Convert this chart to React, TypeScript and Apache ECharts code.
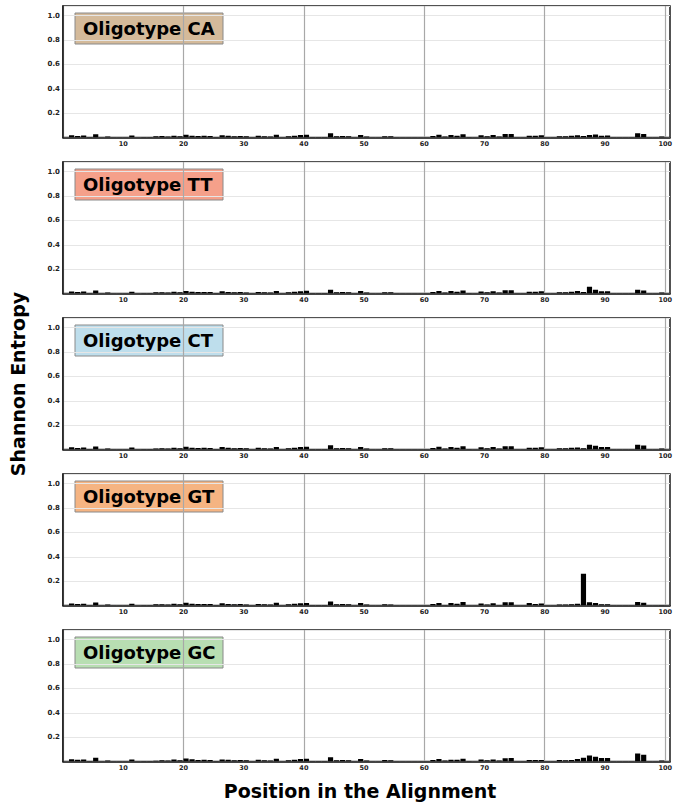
import React, { useEffect, useRef } from "react";
import * as echarts from "echarts";

// Alignment positions 1..99 (category index of each bar)
const POSITIONS: number[] = Array.from({ length: 99 }, (_, i) => i + 1);

const OLIGOTYPES = ["CA", "TT", "CT", "GT", "GC"];

const CA: number[] = [
  0.018, 0.012, 0.016, 0.004, 0.027, 0.003, 0.008, 0.002, 0.002, 0.002,
  0.016, 0.003, 0.004, 0.005, 0.010, 0.012, 0.008, 0.014, 0.010, 0.022,
  0.015, 0.012, 0.014, 0.012, 0.005, 0.018, 0.014, 0.010, 0.012, 0.010,
  0.003, 0.014, 0.010, 0.008, 0.022, 0.003, 0.010, 0.015, 0.020, 0.022,
  0.005, 0.005, 0.005, 0.035, 0.010, 0.012, 0.010, 0.003, 0.020, 0.008,
  0.002, 0.002, 0.010, 0.010, 0.002, 0.002, 0.002, 0.002, 0.002, 0.002,
  0.012, 0.022, 0.008, 0.020, 0.014, 0.026, 0.005, 0.003, 0.018, 0.010,
  0.020, 0.008, 0.028, 0.028, 0.003, 0.003, 0.015, 0.015, 0.018, 0.003,
  0.003, 0.010, 0.010, 0.014, 0.018, 0.012, 0.020, 0.024, 0.014, 0.016,
  0.002, 0.002, 0.002, 0.002, 0.035, 0.028, 0.003, 0.003, 0.008,
];

const TT: number[] = [
  0.016, 0.012, 0.016, 0.004, 0.025, 0.003, 0.008, 0.002, 0.002, 0.002,
  0.015, 0.003, 0.004, 0.005, 0.010, 0.011, 0.008, 0.014, 0.010, 0.020,
  0.015, 0.012, 0.013, 0.012, 0.005, 0.018, 0.013, 0.010, 0.012, 0.009,
  0.003, 0.013, 0.010, 0.008, 0.020, 0.003, 0.010, 0.014, 0.019, 0.022,
  0.005, 0.005, 0.005, 0.030, 0.010, 0.012, 0.010, 0.003, 0.020, 0.008,
  0.002, 0.002, 0.010, 0.010, 0.002, 0.002, 0.002, 0.002, 0.002, 0.002,
  0.012, 0.020, 0.008, 0.020, 0.014, 0.024, 0.005, 0.003, 0.016, 0.010,
  0.018, 0.008, 0.026, 0.026, 0.003, 0.003, 0.015, 0.015, 0.018, 0.003,
  0.003, 0.010, 0.010, 0.014, 0.020, 0.012, 0.055, 0.030, 0.018, 0.018,
  0.002, 0.002, 0.002, 0.002, 0.030, 0.025, 0.003, 0.003, 0.008,
];

const CT: number[] = [
  0.018, 0.012, 0.016, 0.004, 0.025, 0.003, 0.008, 0.002, 0.002, 0.002,
  0.016, 0.003, 0.004, 0.005, 0.008, 0.010, 0.008, 0.014, 0.010, 0.022,
  0.015, 0.012, 0.014, 0.012, 0.005, 0.020, 0.014, 0.010, 0.012, 0.010,
  0.003, 0.014, 0.010, 0.008, 0.020, 0.003, 0.010, 0.015, 0.020, 0.022,
  0.005, 0.005, 0.005, 0.035, 0.010, 0.012, 0.010, 0.003, 0.020, 0.008,
  0.002, 0.002, 0.010, 0.010, 0.002, 0.002, 0.002, 0.002, 0.002, 0.002,
  0.012, 0.022, 0.008, 0.020, 0.014, 0.026, 0.005, 0.003, 0.018, 0.010,
  0.020, 0.008, 0.026, 0.026, 0.003, 0.003, 0.015, 0.015, 0.018, 0.003,
  0.003, 0.010, 0.010, 0.014, 0.016, 0.010, 0.040, 0.030, 0.020, 0.020,
  0.002, 0.002, 0.002, 0.002, 0.040, 0.032, 0.003, 0.003, 0.008,
];

const GT: number[] = [
  0.016, 0.012, 0.014, 0.004, 0.024, 0.003, 0.008, 0.002, 0.002, 0.002,
  0.015, 0.003, 0.004, 0.005, 0.010, 0.011, 0.008, 0.014, 0.010, 0.022,
  0.014, 0.012, 0.012, 0.012, 0.005, 0.018, 0.013, 0.010, 0.012, 0.009,
  0.003, 0.013, 0.010, 0.008, 0.022, 0.003, 0.010, 0.015, 0.018, 0.020,
  0.005, 0.005, 0.005, 0.032, 0.010, 0.012, 0.010, 0.003, 0.020, 0.008,
  0.002, 0.002, 0.010, 0.008, 0.002, 0.002, 0.002, 0.002, 0.002, 0.002,
  0.012, 0.020, 0.005, 0.020, 0.015, 0.028, 0.003, 0.003, 0.016, 0.008,
  0.018, 0.005, 0.026, 0.026, 0.003, 0.003, 0.020, 0.012, 0.016, 0.003,
  0.003, 0.008, 0.008, 0.010, 0.014, 0.260, 0.026, 0.020, 0.010, 0.010,
  0.002, 0.002, 0.002, 0.002, 0.028, 0.022, 0.003, 0.003, 0.005,
];

const GC: number[] = [
  0.018, 0.014, 0.016, 0.004, 0.030, 0.003, 0.008, 0.002, 0.002, 0.002,
  0.016, 0.003, 0.004, 0.005, 0.006, 0.010, 0.008, 0.016, 0.010, 0.024,
  0.018, 0.012, 0.014, 0.012, 0.005, 0.016, 0.014, 0.010, 0.012, 0.010,
  0.003, 0.014, 0.010, 0.008, 0.022, 0.003, 0.010, 0.014, 0.020, 0.022,
  0.005, 0.005, 0.005, 0.035, 0.010, 0.012, 0.010, 0.003, 0.020, 0.008,
  0.002, 0.002, 0.012, 0.010, 0.002, 0.002, 0.002, 0.002, 0.002, 0.002,
  0.012, 0.020, 0.008, 0.015, 0.015, 0.022, 0.005, 0.003, 0.016, 0.010,
  0.016, 0.008, 0.026, 0.028, 0.003, 0.003, 0.012, 0.012, 0.012, 0.003,
  0.003, 0.012, 0.010, 0.012, 0.020, 0.030, 0.050, 0.038, 0.028, 0.028,
  0.002, 0.002, 0.002, 0.002, 0.065, 0.055, 0.003, 0.003, 0.008,
];

const SERIES_VALUES: number[][] = [CA, TT, CT, GT, GC];

const BOX_COLORS = [
  "rgba(201,169,129,0.8)",
  "rgba(242,136,109,0.8)",
  "rgba(174,214,231,0.8)",
  "rgba(242,161,99,0.8)",
  "rgba(166,214,159,0.8)",
];

const X_TICKS = [10, 20, 30, 40, 50, 60, 70, 80, 90, 100];
const Y_TICKS = [0.2, 0.4, 0.6, 0.8, 1.0];

const X_TITLE = "Position in the Alignment";
const Y_TITLE = "Shannon Entropy";

const FONT = "DejaVu Sans";

export default function App() {
  const ref = useRef<HTMLDivElement>(null);

  useEffect(() => {
    if (!ref.current) return;
    const chart = echarts.init(ref.current, null, { renderer: "svg" });

    const panelTop = (k: number) => 6 + 156 * k;
    const panelH = 131.5;

    const grids: any[] = [];
    const xAxes: any[] = [];
    const yAxes: any[] = [];
    const series: any[] = [];
    const graphics: any[] = [];

    SERIES_VALUES.forEach((vals, k) => {
      grids.push({
        left: 63,
        right: 6,
        top: panelTop(k),
        height: panelH,
        show: true,
        backgroundColor: "#ffffff",
        borderColor: "#1a1a1a",
        borderWidth: 1.5,
      });
      xAxes.push({
        type: "value",
        gridIndex: k,
        min: 0,
        max: 100.8,
        interval: 10,
        axisLine: { show: true, lineStyle: { color: "#1a1a1a", width: 1.5 } },
        axisTick: { show: false },
        axisLabel: {
          show: true,
          margin: 3,
          fontFamily: FONT,
          fontWeight: "bold",
          fontSize: 6.5,
          color: "#222",
          showMaxLabel: false,
          formatter: (v: number) => (X_TICKS.indexOf(v) >= 0 ? String(v) : ""),
        },
        splitLine: {
          show: true,
          lineStyle: { color: ["#a8a8a8", "rgba(0,0,0,0)"], width: 1.2 },
        },
      });
      yAxes.push({
        type: "value",
        gridIndex: k,
        min: 0,
        max: 1.08,
        interval: 0.2,
        axisLine: { show: true, lineStyle: { color: "#1a1a1a", width: 1.5 } },
        axisTick: { show: false },
        axisLabel: {
          show: true,
          margin: 3,
          fontFamily: FONT,
          fontWeight: "bold",
          fontSize: 7,
          color: "#222",
          showMaxLabel: false,
          formatter: (v: number) => {
            const hit = Y_TICKS.find((t) => Math.abs(t - v) < 1e-6);
            return hit !== undefined ? hit.toFixed(1) : "";
          },
        },
        splitLine: { show: true, lineStyle: { color: "#e6e6e6", width: 1 } },
      });
      series.push({
        type: "custom",
        xAxisIndex: k,
        yAxisIndex: k,
        clip: true,
        data: POSITIONS.map((p, i) => [p, vals[i]]),
        renderItem: (params: any, api: any) => {
          const x = api.value(0);
          const v = api.value(1);
          const a = api.coord([x, v]);
          const b = api.coord([x + 0.86, 0]);
          return {
            type: "rect",
            shape: { x: a[0], y: a[1], width: b[0] - a[0], height: b[1] - a[1] },
            style: { fill: "#000000" },
          };
        },
      });
      graphics.push({
        type: "group",
        z: 100,
        children: [
          {
            type: "rect",
            shape: { x: 75, y: panelTop(k) + 7, width: 148, height: 31 },
            style: { fill: BOX_COLORS[k], stroke: "#8a8a8a", lineWidth: 1 },
          },
          {
            type: "text",
            x: 83,
            y: panelTop(k) + 22.5,
            style: {
              text: "Oligotype " + OLIGOTYPES[k],
              font: `bold 18px "${FONT}"`,
              fill: "#000",
              textAlign: "left",
              textVerticalAlign: "middle",
            },
          },
        ],
      });
    });

    graphics.push({
      type: "text",
      x: 360,
      y: 791,
      style: {
        text: X_TITLE,
        font: `bold 19px "${FONT}"`,
        fill: "#000",
        textAlign: "center",
        textVerticalAlign: "middle",
      },
    });
    graphics.push({
      type: "text",
      x: 18,
      y: 384,
      rotation: Math.PI / 2,
      style: {
        text: Y_TITLE,
        font: `bold 19px "${FONT}"`,
        fill: "#000",
        textAlign: "center",
        textVerticalAlign: "middle",
      },
    });

    chart.setOption({
      animation: false,
      backgroundColor: "#ffffff",
      grid: grids,
      xAxis: xAxes,
      yAxis: yAxes,
      series,
      graphic: graphics,
    });

    return () => chart.dispose();
  }, []);

  return (
    <div
      ref={ref}
      style={{ position: "fixed", left: 0, top: 0, width: 676, height: 802 }}
    />
  );
}
